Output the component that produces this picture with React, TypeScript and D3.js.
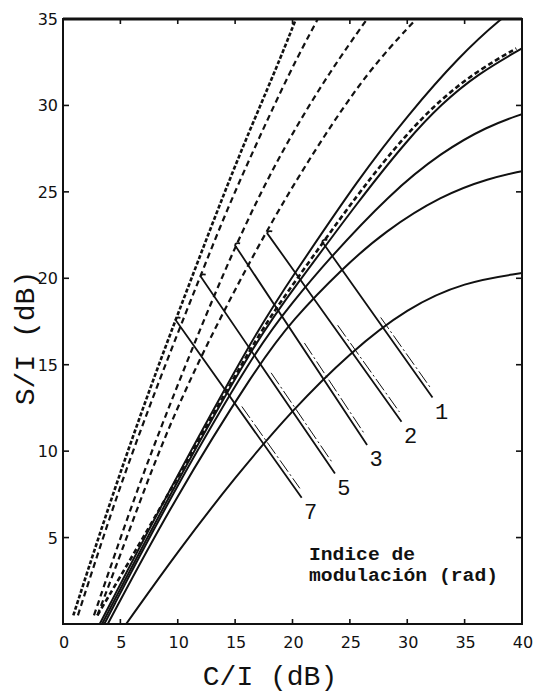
import * as d3 from 'd3'

type Pt = [number, number]

const W = 537
const H = 695

// C/I (dB) axis and S/I (dB) axis
const x = d3.scaleLinear().domain([0, 40]).range([63, 522])
const y = d3.scaleLinear().domain([0, 35]).range([624, 19])

const xTicks = [0, 5, 10, 15, 20, 25, 30, 35, 40]
const yTicks = [5, 10, 15, 20, 25, 30, 35]

// solid curves (C/I, S/I)
const solid1: Pt[] = [[3.2, 0], [9.3, 7.8], [16.9, 17], [20, 20.1], [25.9, 25.9], [30, 29.4], [34.6, 32.9], [38.3, 35.1], [40, 35.9]]
const solid2: Pt[] = [[3.4, 0], [9.3, 7.5], [16.9, 16.5], [20, 19.3], [25.9, 24.6], [30, 28.0], [33, 30.1], [36.1, 31.8], [40, 33.3]]
const solid3: Pt[] = [[3.6, 0], [9.3, 7.3], [16.9, 16], [20, 18.6], [23, 21], [28.5, 24.9], [33, 27.3], [37, 28.8], [40, 29.5]]
const solid4: Pt[] = [[3.9, 0], [9.5, 7.0], [16.9, 14.9], [20, 17.6], [24.4, 20.6], [28, 22.7], [33, 24.8], [37.2, 25.8], [40, 26.2]]
const solid5: Pt[] = [[5.5, 0], [10, 4.2], [15, 8.5], [20, 12.4], [25, 15.7], [30, 18.3], [35, 19.8], [40, 20.3]]

// dashed curves
const dashWavy: Pt[] = [[0.9, 0.5], [2.6, 4], [4.6, 8], [6.7, 12], [8.9, 16], [11.2, 20], [13.5, 24], [15.9, 28], [18.5, 32], [20.3, 35]]
const dashB: Pt[] = [[1.3, 0.5], [3.0, 4], [5.0, 8], [7.2, 12], [9.5, 16], [11.9, 20], [14.3, 24], [17, 28], [19.8, 32], [22.2, 35]]
const dashC: Pt[] = [[2.7, 0.5], [4.5, 4], [6.6, 8], [8.9, 12], [11.3, 16], [13.8, 20], [16.5, 24], [19.6, 28], [23.3, 32], [26.5, 35]]
const dashD: Pt[] = [[3.0, 0.5], [5.0, 4], [7.2, 8], [9.6, 12], [12.4, 16], [15.5, 20], [18.8, 24], [22.5, 28], [26.6, 32], [30.5, 34.8]]
const dashNear: Pt[] = [[3.0, 0.5], [9.3, 7.6], [16.9, 16.7], [20, 19.6], [25.9, 25.1], [30, 28.4], [33, 30.4], [36.1, 32.0], [39.5, 33.3]]

// modulation index lines
const indexLabels = ['1', '2', '3', '5', '7']
const indexStart: Pt[] = [[22.6, 22.1], [17.8, 22.6], [15.0, 21.9], [12.0, 20.1], [9.8, 17.6]]
const indexEnd: Pt[] = [[32.2, 13.1], [29.5, 11.7], [26.5, 10.35], [23.7, 8.7], [20.8, 7.3]]

const curve = d3.line<Pt>().x(d => x(d[0])).y(d => y(d[1])).curve(d3.curveBasis)

const mono = '"Liberation Mono", "DejaVu Sans Mono", monospace'
const ink = '#111'

export default function App() {
  const solids = [solid1, solid2, solid3, solid4, solid5]
  const dashed = [dashB, dashC, dashD]

  return (
    <svg width={W} height={H} style={{ position: 'absolute', left: 0, top: 0, background: '#fff' }}>
      <defs>
        <clipPath id="plot">
          <rect x={x(0)} y={y(35)} width={x(40) - x(0)} height={y(0) - y(35)} />
        </clipPath>
      </defs>
      <rect width={W} height={H} fill="#fff" />

      <g clipPath="url(#plot)" fill="none" stroke={ink}>
        {solids.map((s, i) => (
          <path key={'s' + i} d={curve(s) || ''} strokeWidth={2} />
        ))}
        {dashed.map((s, i) => (
          <path key={'d' + i} d={curve(s) || ''} strokeWidth={2.2} strokeDasharray="6 4" />
        ))}
        <path d={curve(dashWavy) || ''} strokeWidth={2.6} strokeDasharray="4 2" />
        <path d={curve(dashNear) || ''} strokeWidth={2.6} strokeDasharray="5 3" />

        {indexStart.map((s, i) => {
          const e = indexEnd[i]
          const x0 = x(s[0]), y0 = y(s[1]), x1 = x(e[0]), y1 = y(e[1])
          const len = Math.hypot(x1 - x0, y1 - y0)
          const ux = (x1 - x0) / len, uy = (y1 - y0) / len
          // companion thin line in the lower part, as in the scan
          const ox = -uy * 4, oy = ux * 4
          const a = 0.5, b = 0.96
          return (
            <g key={'l' + i}>
              <path d={`M${x0 + 5},${y0 - 2} Q${x0},${y0 - 3} ${x0},${y0} L${x1},${y1}`} strokeWidth={1.8} />
              <line
                x1={x0 + (x1 - x0) * a - ox}
                y1={y0 + (y1 - y0) * a - oy}
                x2={x0 + (x1 - x0) * b - ox}
                y2={y0 + (y1 - y0) * b - oy}
                strokeWidth={1}
                strokeDasharray="14 3 2 3"
              />
            </g>
          )
        })}
      </g>

      {/* frame */}
      <rect x={x(0)} y={y(35)} width={x(40) - x(0)} height={y(0) - y(35)} fill="none" stroke={ink} strokeWidth={2} />
      <line x1={x(0)} x2={x(40)} y1={y(35)} y2={y(35)} stroke={ink} strokeWidth={3} />

      {/* ticks */}
      <g stroke={ink} strokeWidth={1.6}>
        {yTicks.filter(v => v < 35).map(v => (
          <g key={'yt' + v}>
            <line x1={x(0)} x2={x(0) + 6} y1={y(v)} y2={y(v)} />
            <line x1={x(40)} x2={x(40) - 6} y1={y(v)} y2={y(v)} />
          </g>
        ))}
        {xTicks.filter(v => v > 0 && v < 40).map(v => (
          <g key={'xt' + v}>
            <line x1={x(v)} x2={x(v)} y1={y(0)} y2={y(0) - 5} />
            <line x1={x(v)} x2={x(v)} y1={y(35)} y2={y(35) + 5} />
          </g>
        ))}
      </g>

      <g fontFamily='"DejaVu Sans", sans-serif' fontSize={16} fill={ink}>
        {yTicks.map(v => (
          <text key={'yl' + v} x={x(0) - 5} y={y(v) + 6} textAnchor="end">{v}</text>
        ))}
        {xTicks.map(v => (
          <text key={'xl' + v} x={x(v) + 1} y={648} textAnchor="middle">{v}</text>
        ))}
      </g>

      {/* index labels */}
      <g fontFamily={mono} fontSize={22} fill={ink}>
        {indexEnd.map((e, i) => (
          <text key={'il' + i} x={x(e[0]) + 9} y={y(e[1]) + 21} textAnchor="middle">{indexLabels[i]}</text>
        ))}
      </g>

      <g fontFamily={mono} fontSize={18} fontWeight="bold" fill={ink}>
        <text x={309} y={560} textLength={106} lengthAdjust="spacingAndGlyphs">Indice de</text>
        <text x={309} y={581} textLength={189} lengthAdjust="spacingAndGlyphs">modulación (rad)</text>
      </g>

      <text x={270} y={685} textAnchor="middle" fontFamily={mono} fontSize={28} fill={ink}>C/I (dB)</text>
      <text transform="translate(34,338) rotate(-90)" textAnchor="middle" fontFamily={mono} fontSize={28} fill={ink}>S/I (dB)</text>
    </svg>
  )
}
